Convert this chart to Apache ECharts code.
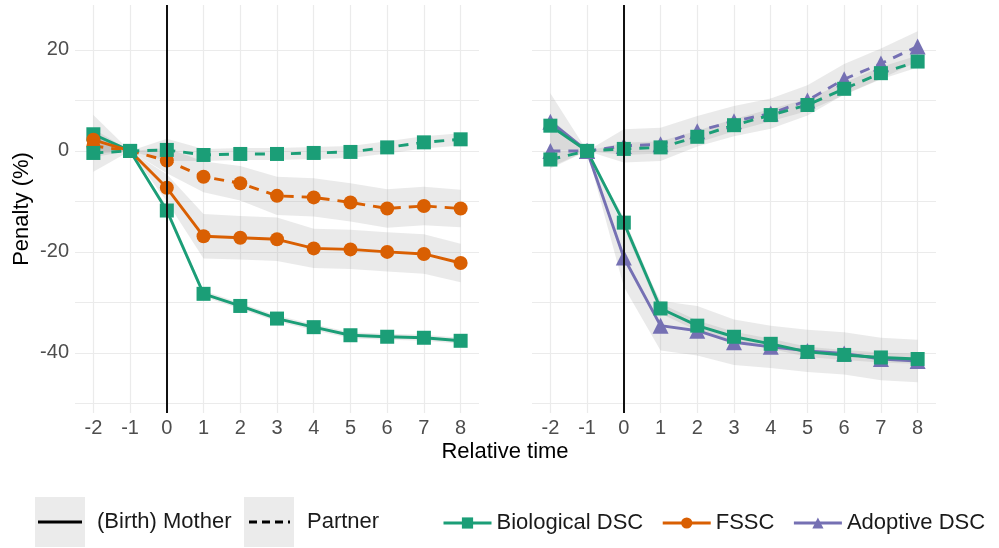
<!DOCTYPE html>
<html>
<head>
<meta charset="utf-8">
<script src="https://cdn.jsdelivr.net/npm/echarts@6/dist/echarts.min.js"></script>
<style>
html,body{margin:0;padding:0;background:#fff;}
#chart{width:999px;height:548px;}
</style>
</head>
<body>
<div id="chart"></div>
<script>
// ---- data ----
const timeLabels = ['-2','-1','0','1','2','3','4','5','6','7','8'];
const eventTime = '0';
const yTickLabels = [-40, -20, 0, 20];

// Left panel: Biological DSC vs FSSC
const bioMotherL   = [3.3, 0, -11.8, -28.3, -30.7, -33.2, -34.9, -36.5, -36.8, -37.0, -37.6];
const bioMotherLLo = [-0.6, 0, -12.6, -28.9, -31.3, -33.8, -35.5, -37.1, -37.4, -37.6, -38.2];
const bioMotherLHi = [7.1, 0, -11.0, -27.7, -30.1, -32.6, -34.3, -35.9, -36.2, -36.4, -37.0];
const bioPartnerL   = [-0.4, 0, 0.2, -0.8, -0.6, -0.6, -0.4, -0.2, 0.7, 1.7, 2.3];
const bioPartnerLLo = [-4.1, 0, -2.0, -2.0, -1.8, -1.8, -1.6, -1.4, -0.5, 0.5, 1.1];
const bioPartnerLHi = [3.4, 0, 2.4, 0.4, 0.6, 0.6, 0.8, 1.0, 1.9, 2.9, 3.5];
const fsscMotherL   = [2.2, 0, -7.3, -16.9, -17.2, -17.5, -19.3, -19.5, -20.0, -20.4, -22.2];
const fsscMotherLLo = [0.0, 0, -10.0, -21.3, -21.5, -21.8, -23.2, -23.4, -23.9, -24.3, -26.0];
const fsscMotherLHi = [4.4, 0, -4.6, -12.5, -12.9, -13.2, -15.4, -15.6, -16.1, -16.5, -18.4];
const fsscPartnerL   = [1.0, 0, -1.9, -5.1, -6.4, -8.9, -9.2, -10.2, -11.4, -10.9, -11.4];
const fsscPartnerLLo = [-1.2, 0, -4.4, -8.2, -9.8, -12.7, -13.0, -14.0, -15.2, -14.7, -15.1];
const fsscPartnerLHi = [3.2, 0, 0.6, -2.1, -3.0, -5.1, -5.4, -6.4, -7.6, -7.1, -7.7];

// Right panel: Biological DSC vs Adoptive DSC
const bioMotherR   = [5.0, 0, -14.2, -31.2, -34.6, -36.8, -38.2, -39.8, -40.4, -40.9, -41.2];
const bioMotherRLo = [3.5, 0, -15.2, -32.2, -35.6, -37.8, -39.2, -40.8, -41.4, -41.9, -42.2];
const bioMotherRHi = [6.5, 0, -13.2, -30.2, -33.6, -35.8, -37.2, -38.8, -39.4, -39.9, -40.2];
const adoptMotherR   = [5.8, 0, -21.1, -34.6, -35.6, -37.9, -38.8, -39.6, -40.1, -41.2, -41.6];
const adoptMotherRLo = [0.2, 0, -26.9, -39.5, -40.5, -42.4, -43.0, -43.8, -44.3, -45.4, -45.8];
const adoptMotherRHi = [11.4, 0, -15.3, -29.7, -30.7, -33.4, -34.6, -35.4, -35.9, -37.0, -37.4];
const bioPartnerR   = [-1.7, 0, 0.4, 0.7, 2.8, 5.1, 7.1, 9.1, 12.3, 15.4, 17.7];
const bioPartnerRLo = [-3.2, 0, -0.8, -0.5, 1.6, 3.9, 5.9, 7.9, 11.1, 14.2, 16.5];
const bioPartnerRHi = [-0.2, 0, 1.6, 1.9, 4.0, 6.3, 8.3, 10.3, 13.5, 16.6, 18.9];
const adoptPartnerR   = [0.0, 0, 1.0, 1.3, 3.9, 5.9, 7.4, 10.0, 14.2, 17.3, 20.7];
const adoptPartnerRLo = [-3.5, 0, -2.3, -2.0, 0.9, 2.9, 4.4, 7.0, 11.2, 14.3, 17.7];
const adoptPartnerRHi = [3.5, 0, 4.3, 4.6, 6.9, 8.9, 10.4, 13.0, 17.2, 20.3, 23.7];

// ---- styling ----
const FONT = "'Liberation Sans', Arial, Helvetica, sans-serif";
const C_BIO = '#1b9e77', C_FSSC = '#d95f02', C_ADOPT = '#7570b3';
const RIBBON = 'rgba(150,150,150,0.2)';
const DASH = [10, 8];
const LW = 2.9;

const chart = echarts.init(document.getElementById('chart'), null, {renderer: 'canvas'});

function ribbon(idx, lo, hi, key) {
  return [
    {type: 'line', name: key + '_lo', xAxisIndex: idx, yAxisIndex: idx, data: lo,
     stack: key, stackStrategy: 'all', symbol: 'none', silent: true, z: 1,
     lineStyle: {opacity: 0}},
    {type: 'line', name: key + '_hi', xAxisIndex: idx, yAxisIndex: idx,
     data: hi.map((h, i) => +(h - lo[i]).toFixed(3)),
     stack: key, stackStrategy: 'all', symbol: 'none', silent: true, z: 1,
     lineStyle: {opacity: 0}, areaStyle: {color: RIBBON, opacity: 1}}
  ];
}

function line(idx, name, data, color, symbol, size, dashed) {
  return {
    type: 'line', name: name, xAxisIndex: idx, yAxisIndex: idx, data: data,
    symbol: symbol, symbolSize: size, showSymbol: true, z: 3,
    lineStyle: {color: color, width: LW, type: dashed ? DASH : 'solid'},
    itemStyle: {color: color, borderWidth: 0},
    emphasis: {disabled: true}
  };
}

function vline(idx) {
  return {
    type: 'line', name: 'vline' + idx, xAxisIndex: idx, yAxisIndex: idx, data: [],
    z: 2, silent: true,
    markLine: {silent: true, symbol: 'none', animation: false, label: {show: false},
      lineStyle: {color: '#111', width: 2, type: 'solid'},
      data: [{xAxis: eventTime}]}
  };
}

function xAxis(gi) {
  return {
    type: 'category', gridIndex: gi, data: timeLabels, boundaryGap: true,
    axisLine: {show: false}, axisTick: {show: false, alignWithLabel: true},
    axisLabel: {interval: 0, fontSize: 20, color: '#4d4d4d', fontFamily: FONT, margin: 5},
    splitLine: {show: true, interval: 0, alignWithLabel: true, lineStyle: {color: '#ebebeb', width: 1.2}}
  };
}

function yAxis(gi, showLabels) {
  return {
    type: 'value', gridIndex: gi, min: -51.9, max: 28.9, splitNumber: 8,
    axisLine: {show: false}, axisTick: {show: false},
    axisLabel: {show: showLabels, fontSize: 20, color: '#4d4d4d', fontFamily: FONT, margin: 6,
      showMinLabel: false, showMaxLabel: false,
      formatter: v => yTickLabels.indexOf(v) >= 0 ? String(v) : ''},
    splitLine: {show: true, showMinLine: false, showMaxLine: false,
      lineStyle: {color: '#ebebeb', width: 1.2}}
  };
}

const series = [].concat(
  ribbon(0, bioMotherLLo, bioMotherLHi, 'r1'),
  ribbon(0, bioPartnerLLo, bioPartnerLHi, 'r2'),
  ribbon(0, fsscMotherLLo, fsscMotherLHi, 'r3'),
  ribbon(0, fsscPartnerLLo, fsscPartnerLHi, 'r4'),
  ribbon(1, bioMotherRLo, bioMotherRHi, 'r5'),
  ribbon(1, adoptMotherRLo, adoptMotherRHi, 'r6'),
  ribbon(1, bioPartnerRLo, bioPartnerRHi, 'r7'),
  ribbon(1, adoptPartnerRLo, adoptPartnerRHi, 'r8'),
  [vline(0), vline(1)],
  [
    line(0, 'Biological DSC', bioMotherL, C_BIO, 'rect', 14, false),
    line(0, 'FSSC', fsscMotherL, C_FSSC, 'circle', 14, false),
    line(1, 'Adoptive DSC', adoptMotherR, C_ADOPT, 'triangle', 16, false),
    line(1, 'Biological DSC', bioMotherR, C_BIO, 'rect', 14, false),
    line(0, 'FSSC', fsscPartnerL, C_FSSC, 'circle', 14, true),
    line(0, 'Biological DSC', bioPartnerL, C_BIO, 'rect', 14, true),
    line(1, 'Adoptive DSC', adoptPartnerR, C_ADOPT, 'triangle', 16, true),
    line(1, 'Biological DSC', bioPartnerR, C_BIO, 'rect', 14, true)
  ]
);

const option = {
  animation: false,
  backgroundColor: '#ffffff',
  textStyle: {fontFamily: FONT},
  grid: [
    {left: 75, top: 5, width: 404, height: 408},
    {left: 532, top: 5, width: 404, height: 408}
  ],
  xAxis: [xAxis(0), xAxis(1)],
  yAxis: [yAxis(0, true), yAxis(1, false)],
  legend: {
    data: ['Biological DSC', 'FSSC', 'Adoptive DSC'],
    left: 437, top: 507, itemWidth: 48, itemHeight: 14, itemGap: 18,
    selectedMode: false,
    lineStyle: {width: 3},
    textStyle: {fontSize: 22, color: '#1a1a1a', fontFamily: FONT}
  },
  graphic: [
    {type: 'text', x: 505, y: 452,
      style: {text: 'Relative time', fontSize: 22, fill: '#000', fontFamily: FONT, align: 'center', verticalAlign: 'middle'}},
    {type: 'text', rotation: Math.PI / 2, x: 22, y: 209,
      style: {text: 'Penalty (%)', fontSize: 22, fill: '#000', fontFamily: FONT, align: 'center', verticalAlign: 'middle'}},
    {type: 'rect', shape: {x: 35, y: 497, width: 50, height: 50}, style: {fill: '#ebebeb'}},
    {type: 'line', shape: {x1: 38, y1: 522, x2: 82, y2: 522}, style: {stroke: '#000', lineWidth: 2.8}},
    {type: 'text', x: 97, y: 522, style: {text: '(Birth) Mother', fontSize: 22, fill: '#1a1a1a', fontFamily: FONT, verticalAlign: 'middle'}},
    {type: 'rect', shape: {x: 244, y: 497, width: 50, height: 50}, style: {fill: '#ebebeb'}},
    {type: 'line', shape: {x1: 249, y1: 522, x2: 290, y2: 522}, style: {stroke: '#000', lineWidth: 2.8, lineDash: [8, 5]}},
    {type: 'text', x: 307, y: 522, style: {text: 'Partner', fontSize: 22, fill: '#1a1a1a', fontFamily: FONT, verticalAlign: 'middle'}}
  ],
  series: series
};
chart.setOption(option);
</script>
</body>
</html>
